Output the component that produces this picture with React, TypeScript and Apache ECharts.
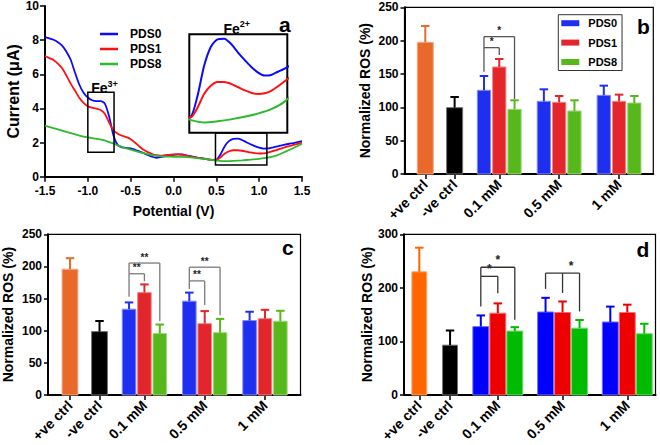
import React, { useEffect, useRef } from 'react';
import * as echarts from 'echarts';

const FONT = '"Liberation Sans", Arial, Helvetica, sans-serif';

// ---------- Panel a : current vs potential ----------
const potentialFine = [
  -1.5, -1.45, -1.4, -1.35, -1.3, -1.25, -1.2, -1.15, -1.1, -1.05,
  -1.0, -0.95, -0.9, -0.85, -0.8, -0.75, -0.7, -0.65, -0.6, -0.55,
  -0.5, -0.45, -0.4, -0.35, -0.3, -0.25, -0.2, -0.15, -0.1, -0.05,
  0.0, 0.05, 0.1, 0.15, 0.2, 0.25, 0.3, 0.35, 0.4, 0.45,
  0.5, 0.55, 0.6, 0.65, 0.7, 0.75, 0.8, 0.85, 0.9, 0.95,
  1.0, 1.05, 1.1, 1.15, 1.2, 1.25, 1.3, 1.35, 1.4, 1.45, 1.5,
];
const currentPDS0 = [
  8.17, 8.1, 8.02, 7.88, 7.68, 7.32, 6.85, 6.1, 5.4, 4.92,
  4.64, 4.48, 4.43, 4.43, 4.27, 3.5, 2.4, 1.85, 1.72, 1.68,
  1.66, 1.58, 1.48, 1.38, 1.27, 1.17, 1.11, 1.15, 1.21, 1.25,
  1.27, 1.31, 1.3, 1.25, 1.2, 1.15, 1.1, 1.07, 1.02, 0.99,
  1.0, 1.32, 1.8, 2.1, 2.22, 2.23, 2.15, 2.02, 1.9, 1.79,
  1.7, 1.65, 1.66, 1.71, 1.76, 1.82, 1.88, 1.93, 1.97, 2.03, 2.09,
];
const currentPDS1 = [
  7.07, 6.95, 6.84, 6.62, 6.35, 5.92, 5.45, 5.05, 4.62, 4.32,
  4.12, 4.05, 3.99, 3.91, 3.68, 3.15, 2.72, 2.52, 2.4, 2.32,
  2.2, 2.0, 1.78, 1.58, 1.44, 1.33, 1.26, 1.24, 1.26, 1.28,
  1.3, 1.31, 1.29, 1.24, 1.18, 1.13, 1.09, 1.06, 1.02, 0.99,
  0.99, 1.14, 1.36, 1.49, 1.55, 1.55, 1.52, 1.47, 1.42, 1.38,
  1.36, 1.37, 1.41, 1.48, 1.56, 1.64, 1.72, 1.79, 1.86, 1.93, 1.99,
];
const potentialCoarse = [
  -1.5, -1.4, -1.3, -1.2, -1.1, -1.0, -0.9, -0.8, -0.7, -0.6,
  -0.5, -0.4, -0.3, -0.2, -0.1, 0.0, 0.1, 0.2, 0.3, 0.4,
  0.5, 0.6, 0.7, 0.8, 0.9, 1.0, 1.1, 1.2, 1.3, 1.4, 1.5,
];
const currentPDS8 = [
  2.99, 2.84, 2.7, 2.55, 2.41, 2.3, 2.22, 2.12, 1.94, 1.74,
  1.58, 1.44, 1.32, 1.22, 1.18, 1.17, 1.16, 1.13, 1.07, 1.01,
  0.95, 0.91, 0.93, 0.96, 1.0, 1.05, 1.12, 1.24, 1.45, 1.68, 1.93,
];
// highlighted regions [xMin, yMin, xMax, yMax]
const feBoxes = [
  [-1.0, 1.43, -0.694, 4.94],
  [0.49, 0.69, 1.09, 2.56],
];

// ---------- Panels b, c, d : normalized ROS ----------
const categories = ['+ve ctrl', '-ve ctrl', '0.1 mM', '0.5 mM', '1 mM'];
const pdsNames = ['PDS0', 'PDS1', 'PDS8'];

const bCtrlMean = [197.5, 99.5];
const bCtrlErr = [24.5, 16];
const bPDS0Mean = [125.5, 109, 118];
const bPDS0Err = [21.5, 18, 14.5];
const bPDS1Mean = [160.5, 107.5, 109];
const bPDS1Err = [12, 9.5, 10];
const bPDS8Mean = [97, 94.5, 106.5];
const bPDS8Err = [13.5, 16, 10.5];

const cCtrlMean = [195.8, 98.6];
const cCtrlErr = [17, 16.5];
const cPDS0Mean = [133.5, 146, 115.8];
const cPDS0Err = [10.5, 13.3, 13.7];
const cPDS1Mean = [159.3, 111, 118.8];
const cPDS1Err = [12.7, 19.5, 13.7];
const cPDS8Mean = [95.6, 97, 114.8];
const cPDS8Err = [14, 21.4, 16.2];

const dCtrlMean = [230, 93];
const dCtrlErr = [45, 27.4];
const dPDS0Mean = [127.7, 155, 136.3];
const dPDS0Err = [20.8, 26.4, 28.7];
const dPDS1Mean = [152.7, 154, 154];
const dPDS1Err = [18.3, 20.6, 14.6];
const dPDS8Mean = [119.3, 124.8, 114.4];
const dPDS8Err = [7.3, 15.2, 18.6];

// significance brackets: group index, bars compared, drop ends, bracket level, label
const bBrackets = [
  { group: 2, bars: [0, 1], drops: [153.5, 178.5], level: 189.5, label: '*' },
  { group: 2, bars: [0, 2], drops: [189.5, 112.5], level: 206, label: '*' },
];
const cBrackets = [
  { group: 2, bars: [0, 1], drops: [152.8, 177], level: 188.6, label: '**' },
  { group: 2, bars: [0, 2], drops: [188.6, 115], level: 205.3, label: '**' },
  { group: 3, bars: [0, 1], drops: [165, 140], level: 177.5, label: '**' },
  { group: 3, bars: [0, 2], drops: [177.5, 124], level: 198.8, label: '**' },
];
const dBrackets = [
  { group: 2, bars: [0, 1], drops: [165, 190], level: 221.5, label: '*' },
  { group: 2, bars: [0, 2], drops: [221.5, 140.5], level: 238.5, label: '*' },
  { group: 3, bars: [0, 1, 2], drops: [198, 190.5, 156], level: 227.5, label: '*' },
];

// ---------- layout / style ----------
const groupSizes = [1, 1, 3, 3, 3];
const lineColors = ['#0A0AFF', '#FF1010', '#2DBB2D'];
const bcCtrlColors = ['#E8692A', '#000000'];
const bcPdsColors = ['#1F2FEF', '#E3262C', '#56B81A'];
const dCtrlColors = ['#FF6600', '#000000'];
const dPdsColors = ['#0000FF', '#EE0000', '#00BB00'];

const txt = { fontFamily: FONT, fontWeight: 'bold' as const, color: '#000' };

function lighten(hex: string, t: number) {
  const n = parseInt(hex.slice(1), 16);
  const r = (n >> 16) & 255, g = (n >> 8) & 255, b = n & 255;
  const f = (c: number) => Math.round(c + (255 - c) * t);
  return `rgb(${f(r)},${f(g)},${f(b)})`;
}

function barPositions(gap: number) {
  const barX: number[][] = [];
  let pos = 0;
  for (const n of groupSizes) {
    const xs: number[] = [];
    for (let i = 0; i < n; i++) xs.push(pos + i);
    barX.push(xs);
    pos += n + gap;
  }
  return barX;
}

function barRender(width: number, colors: string[], capPx: number) {
  return (params: any, api: any) => {
    const x = api.value(0), y = api.value(1), e = api.value(2);
    const color = colors[params.dataIndex % colors.length];
    const bl = api.coord([x - width / 2, 0]);
    const tr = api.coord([x + width / 2, y]);
    const top = api.coord([x, y]);
    const et = api.coord([x, y + e]);
    return {
      type: 'group',
      children: [
        {
          type: 'rect',
          shape: { x: bl[0], y: tr[1], width: tr[0] - bl[0], height: bl[1] - tr[1] },
          style: { fill: color, stroke: lighten(color, 0.45), lineWidth: 1 },
        },
        { type: 'line', shape: { x1: top[0], y1: top[1], x2: et[0], y2: et[1] }, style: { stroke: color, lineWidth: 2 } },
        { type: 'line', shape: { x1: et[0] - capPx / 2, y1: et[1], x2: et[0] + capPx / 2, y2: et[1] }, style: { stroke: color, lineWidth: 2 } },
      ],
    };
  };
}

function barPanel(cfg: any) {
  const { idx, layout, ctrlMean, ctrlErr, means, errs, ctrlColors, pdsColors, brackets, bracketColor, starSize, yMax, yInterval, nameGap, names } = cfg;
  const barX = barPositions(layout.gap);
  const centers = barX.map((xs) => xs[Math.floor(xs.length / 2)]);
  const lastX = barX[barX.length - 1][2];
  const xAxis = {
    type: 'value', gridIndex: idx, min: -layout.padL, max: lastX + layout.padR,
    splitLine: { show: false },
    axisLine: { show: true, onZero: false, lineStyle: { color: '#000', width: 2 } },
    axisTick: { show: true, customValues: centers, length: 5, lineStyle: { color: '#000', width: 1.5 } },
    axisLabel: {
      ...txt, fontSize: 14, rotate: 45, margin: 8, customValues: centers,
      formatter: (v: number) => {
        let best = 0;
        centers.forEach((c, i) => { if (Math.abs(c - v) < Math.abs(centers[best] - v)) best = i; });
        return categories[best];
      },
    },
  };
  const yAxis = {
    type: 'value', gridIndex: idx, min: 0, max: yMax, interval: yInterval,
    name: 'Normalized ROS (%)', nameLocation: 'middle', nameGap,
    nameTextStyle: { ...txt, fontSize: 14 },
    splitLine: { show: false },
    axisLine: { show: true, onZero: false, lineStyle: { color: '#000', width: 2 } },
    axisTick: { show: true, length: 4, lineStyle: { color: '#000', width: 1.5 } },
    axisLabel: { ...txt, fontSize: 12, margin: 6 },
  };
  const series: any[] = [];
  const capPx = 8.5;
  pdsColors.forEach((col: string, k: number) => {
    series.push({
      type: 'custom', name: names[k], xAxisIndex: idx, yAxisIndex: idx, silent: true,
      itemStyle: { color: col },
      data: [2, 3, 4].map((g, j) => [barX[g][k], means[k][j], errs[k][j]]),
      renderItem: barRender(layout.barW, [col], capPx),
    });
  });
  series.push({
    type: 'custom', name: 'ctrl' + idx, xAxisIndex: idx, yAxisIndex: idx, silent: true,
    data: [0, 1].map((g) => [barX[g][0], ctrlMean[g], ctrlErr[g]]),
    renderItem: barRender(layout.ctrlW, ctrlColors, capPx),
  });
  series.push({
    type: 'custom', name: 'sig' + idx, xAxisIndex: idx, yAxisIndex: idx, silent: true, z: 5,
    data: brackets.map((b: any) => [barX[b.group][b.bars[0]], b.level]),
    renderItem: (params: any, api: any) => {
      const b = brackets[params.dataIndex];
      const xs = b.bars.map((i: number) => barX[b.group][i]);
      const n = xs.length;
      const pL = api.coord([xs[0], b.level]);
      const pR = api.coord([xs[n - 1], b.level]);
      const children: any[] = [
        { type: 'line', shape: { x1: pL[0], y1: pL[1], x2: pR[0], y2: pR[1] }, style: { stroke: bracketColor, lineWidth: 1.3 } },
      ];
      xs.forEach((x: number, i: number) => {
        const a = api.coord([x, b.level]);
        const d = api.coord([x, b.drops[i]]);
        children.push({ type: 'line', shape: { x1: a[0], y1: a[1], x2: d[0], y2: d[1] }, style: { stroke: bracketColor, lineWidth: 1.3 } });
      });
      const lx = n > 2 ? (xs[n - 2] + xs[n - 1]) / 2 : (xs[0] + xs[n - 1]) / 2;
      const lp = api.coord([lx, b.level]);
      children.push({
        type: 'text', x: lp[0], y: lp[1] - 1,
        style: {
          text: b.label, fill: '#222', fontSize: starSize, fontWeight: 'bold', fontFamily: FONT,
          align: 'center', verticalAlign: 'bottom', textAlign: 'center', textVerticalAlign: 'bottom',
        },
      });
      return { type: 'group', children };
    },
  });
  return { xAxis, yAxis, series };
}

function buildOption() {
  const pb = barPanel({
    idx: 2, layout: { gap: 0.92, padL: 1.36, padR: 1.24, barW: 0.87, ctrlW: 1.05 },
    ctrlMean: bCtrlMean, ctrlErr: bCtrlErr,
    means: [bPDS0Mean, bPDS1Mean, bPDS8Mean], errs: [bPDS0Err, bPDS1Err, bPDS8Err],
    ctrlColors: bcCtrlColors, pdsColors: bcPdsColors, brackets: bBrackets, bracketColor: '#555', starSize: 10,
    yMax: 250, yInterval: 50, nameGap: 33, names: pdsNames,
  });
  const pc = barPanel({
    idx: 3, layout: { gap: 0.92, padL: 1.43, padR: 1.31, barW: 0.885, ctrlW: 1.03 },
    ctrlMean: cCtrlMean, ctrlErr: cCtrlErr,
    means: [cPDS0Mean, cPDS1Mean, cPDS8Mean], errs: [cPDS0Err, cPDS1Err, cPDS8Err],
    ctrlColors: bcCtrlColors, pdsColors: bcPdsColors, brackets: cBrackets, bracketColor: '#7a7a7a', starSize: 10,
    yMax: 250, yInterval: 50, nameGap: 33, names: pdsNames.map((n) => 'c ' + n),
  });
  const pd = barPanel({
    idx: 4, layout: { gap: 0.81, padL: 0.9, padR: 0.66, barW: 0.94, ctrlW: 0.88 },
    ctrlMean: dCtrlMean, ctrlErr: dCtrlErr,
    means: [dPDS0Mean, dPDS1Mean, dPDS8Mean], errs: [dPDS0Err, dPDS1Err, dPDS8Err],
    ctrlColors: dCtrlColors, pdsColors: dPdsColors, brackets: dBrackets, bracketColor: '#333', starSize: 12,
    yMax: 300, yInterval: 100, nameGap: 30, names: pdsNames.map((n) => 'd ' + n),
  });

  const lineData = [
    potentialFine.map((x, i) => [x, currentPDS0[i]]),
    potentialFine.map((x, i) => [x, currentPDS1[i]]),
    potentialCoarse.map((x, i) => [x, currentPDS8[i]]),
  ];
  const lineSeries: any[] = [];
  lineData.forEach((d, k) => {
    lineSeries.push({
      type: 'line', name: pdsNames[k], xAxisIndex: 0, yAxisIndex: 0, data: d, smooth: 0.25,
      symbol: 'none', lineStyle: { color: lineColors[k], width: 1.8 }, itemStyle: { color: lineColors[k] }, silent: true,
    });
    lineSeries.push({
      type: 'line', name: 'inset ' + pdsNames[k], xAxisIndex: 1, yAxisIndex: 1, data: d, smooth: 0.25, clip: true, z: 6,
      symbol: 'none', lineStyle: { color: lineColors[k], width: 2 }, itemStyle: { color: lineColors[k] }, silent: true,
    });
  });
  lineSeries.push({
    type: 'custom', name: 'boxes', xAxisIndex: 0, yAxisIndex: 0, silent: true, z: 4,
    data: feBoxes,
    renderItem: (params: any, api: any) => {
      const p0 = api.coord([api.value(0), api.value(1)]);
      const p1 = api.coord([api.value(2), api.value(3)]);
      return {
        type: 'rect',
        shape: { x: p0[0], y: p1[1], width: p1[0] - p0[0], height: p0[1] - p1[1] },
        style: { fill: 'none', stroke: '#000', lineWidth: 1.5 },
      };
    },
  });

  const axisA = {
    splitLine: { show: false },
    axisLine: { show: true, onZero: false, lineStyle: { color: '#000', width: 2 } },
    axisTick: { show: true, length: 5, lineStyle: { color: '#000', width: 1.5 } },
  };

  const feRich = {
    m: { fontSize: 14, fontWeight: 'bold', fontFamily: FONT, lineHeight: 16, verticalAlign: 'bottom' },
    s: { fontSize: 9, fontWeight: 'bold', fontFamily: FONT, lineHeight: 9, verticalAlign: 'top' },
  };
  const letter = (t: string, x: number, y: number) => ({
    type: 'text', x, y,
    style: { text: t, font: `bold 21px ${FONT}`, fill: '#000', textAlign: 'left', textVerticalAlign: 'bottom', align: 'left', verticalAlign: 'bottom' },
  });

  return {
    animation: false,
    backgroundColor: '#fff',
    textStyle: { fontFamily: FONT },
    grid: [
      { left: 45, top: 6, width: 257, height: 170.7 },
      { left: 189.3, top: 34.3, width: 98, height: 98.4, show: true, borderColor: '#000', borderWidth: 2, backgroundColor: '#fff', z: 5 },
      { left: 404.5, top: 7.3, width: 248.8, height: 166.7, show: true, borderColor: '#000', borderWidth: 1.2 },
      { left: 46.5, top: 234.3, width: 254, height: 164.7, show: true, borderColor: '#000', borderWidth: 1.2 },
      { left: 404, top: 234.3, width: 251.5, height: 164.4, show: true, borderColor: '#000', borderWidth: 1.2 },
    ],
    xAxis: [
      {
        type: 'value', gridIndex: 0, min: -1.5, max: 1.5, interval: 0.5, ...axisA,
        name: 'Potential (V)', nameLocation: 'middle', nameGap: 27, nameTextStyle: { ...txt, fontSize: 14 },
        axisLabel: { ...txt, fontSize: 12, margin: 8, formatter: (v: number) => v.toFixed(1) },
      },
      { type: 'value', gridIndex: 1, min: 0.49, max: 1.22, show: false },
      pb.xAxis, pc.xAxis, pd.xAxis,
    ],
    yAxis: [
      {
        type: 'value', gridIndex: 0, min: 0, max: 10, interval: 2, ...axisA,
        name: 'Current (μA)', nameLocation: 'middle', nameGap: 23, nameTextStyle: { ...txt, fontSize: 16 },
        axisLabel: { ...txt, fontSize: 12, margin: 6 },
      },
      { type: 'value', gridIndex: 1, min: 0.75, max: 2.3, show: false },
      pb.yAxis, pc.yAxis, pd.yAxis,
    ],
    legend: [
      {
        left: 100, top: 28, orient: 'vertical', icon: 'rect', itemWidth: 18, itemHeight: 2.5, itemGap: 3,
        padding: 0, selectedMode: false, textStyle: { ...txt, fontSize: 12, padding: [0, 0, 0, 7] },
        data: pdsNames.map((n, k) => ({ name: n, icon: 'rect', itemStyle: { color: lineColors[k], borderWidth: 0 } })),
      },
      {
        left: 558.3, top: 14.7, orient: 'vertical', icon: 'rect', itemWidth: 18, itemHeight: 6, itemGap: 8.4,
        padding: [3, 5, 3, 3], borderColor: '#333', borderWidth: 1, selectedMode: false,
        textStyle: { ...txt, fontSize: 11, padding: [0, 0, 0, 4] },
        data: pdsNames.map((n, k) => ({ name: n, icon: 'rect', itemStyle: { color: bcPdsColors[k], borderWidth: 0 } })),
      },
    ],
    graphic: [
      letter('a', 279, 35),
      letter('b', 637, 37),
      letter('c', 282, 258),
      letter('d', 636.5, 260),
      { type: 'text', x: 104.5, y: 95, style: { text: '{m|Fe}{s|3+}', rich: feRich, fill: '#000', textAlign: 'center', textVerticalAlign: 'bottom', align: 'center', verticalAlign: 'bottom' } },
      { type: 'text', x: 236.7, y: 35.5, style: { text: '{m|Fe}{s|2+}', rich: feRich, fill: '#000', textAlign: 'center', textVerticalAlign: 'bottom', align: 'center', verticalAlign: 'bottom' } },
    ],
    series: [...pb.series, ...pc.series, ...pd.series, ...lineSeries],
  };
}

export default function App() {
  const ref = useRef<HTMLDivElement>(null);
  useEffect(() => {
    const chart = echarts.init(ref.current as HTMLDivElement, null, { renderer: 'svg' });
    chart.setOption(buildOption() as any);
    return () => chart.dispose();
  }, []);
  return (
    <div
      ref={ref}
      style={{ position: 'fixed', left: 0, top: 0, width: 660, height: 445, background: '#fff' }}
    />
  );
}
